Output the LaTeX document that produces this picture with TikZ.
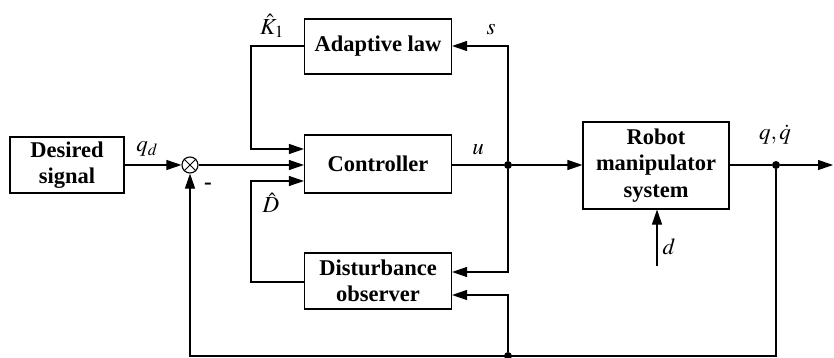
\documentclass[tikz,border=0pt]{standalone}
\usepackage{mathptmx}
\usepackage[no-math]{fontspec}
\setmainfont{Liberation Serif}
\usetikzlibrary{arrows.meta,calc}
\begin{document}
\begin{tikzpicture}[x=1pt,y=-1pt,
  blk/.style={draw,line width=1.1pt,minimum width=147pt,minimum height=56pt,align=center,font=\fontsize{22.5}{26.5}\selectfont\bfseries,inner sep=0pt},
  wire/.style={line width=1.1pt},
  arr/.style={line width=1.1pt,-{Triangle[length=15pt,width=10pt]}},
  dot/.style={circle,fill,inner sep=0pt,minimum size=8pt},
  lbl/.style={font=\fontsize{23}{25}\selectfont}]
\useasboundingbox (0,0) rectangle (834,358);
\node[blk,minimum width=114pt] (des) at (67,165) {Desired\\signal};
\node[draw,circle,line width=1.1pt,minimum size=16pt,inner sep=0pt] (sum) at (190,165) {};
\draw[line width=0.9pt] (sum.north west) -- (sum.south east) (sum.north east) -- (sum.south west);
\node[blk,minimum height=58pt] (ctrl) at (378,164) {Controller};
\node[blk,minimum height=55pt] (adapt) at (378,46.5) {Adaptive law};
\node[blk] (dob) at (378,281) {Disturbance\\observer};
\node[blk,minimum width=146pt,minimum height=87pt] (rob) at (656,165.5) {Robot\\manipulator\\system};
\node[dot] (j1) at (508,165) {};
\node[dot] (j2) at (508,356) {};
\node[dot] (j3) at (776,165) {};
\coordinate (kc) at (251,46);
\coordinate (dc) at (251,282);
\coordinate (sc) at (508,46);
\coordinate (oc) at (833,165);
\coordinate (bc) at (776,356);
\coordinate (bl) at (190,356);
\coordinate (dd) at (657,266);
\draw[arr] (des.east |- sum) -- (sum.west);
\draw[arr] (sum.east) -- (ctrl.west |- sum);
\draw[arr] (adapt.west |- kc) -- (kc) |- ($(ctrl.west)+(0,-15)$);
\draw[arr] (dob.west |- dc) -- (dc) |- ($(ctrl.west)+(0,17)$);
\draw[wire] (ctrl.east |- j1) -- (j1);
\draw[arr] (j1) -- (rob.west |- j1);
\draw[arr] (j1) -- (sc) -- (adapt.east |- sc);
\draw[arr] (j1) |- ($(dob.east)+(0,-9)$);
\draw[arr] (j2) |- ($(dob.east)+(0,14)$);
\draw[wire] (rob.east |- j3) -- (j3);
\draw[arr] (j3) -- (oc);
\draw[arr] (j3) -- (bc) -- (bl) -- (sum.south);
\draw[arr] (dd) -- (rob.south -| dd);
\node[lbl] at (147,149) {$q_d$};
\node[lbl] at (208,186) {\textbf{-}};
\node[lbl] at (272,26) {$\hat{K}_1$};
\node[lbl] at (491,30) {$s$};
\node[lbl] at (478,150) {$u$};
\node[lbl] at (271,203) {$\hat{D}$};
\node[lbl] at (775,135) {$q,\dot{q}$};
\node[lbl] at (669,247) {$d$};
\end{tikzpicture}
\end{document}
